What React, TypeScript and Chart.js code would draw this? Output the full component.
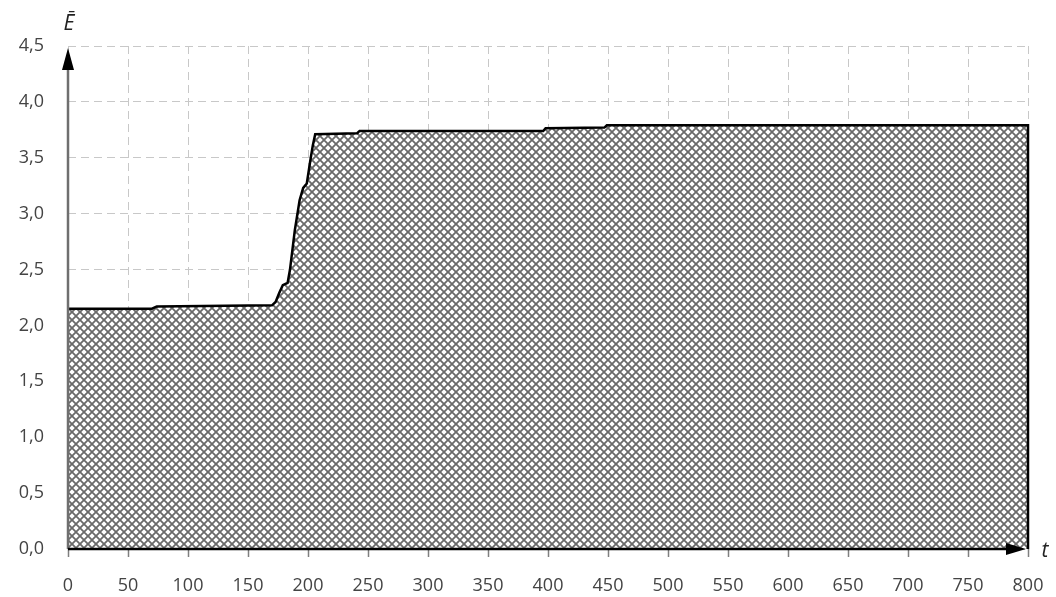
import React, { useEffect, useRef } from "react";
import { Chart, registerables } from "chart.js";

Chart.register(...registerables);

// Time points (t) and the corresponding mean value Ē
const tValues = [0, 70, 74, 170, 173, 176, 179, 183, 185, 189, 193, 196, 199, 202, 204, 206, 241, 243, 396, 398, 447, 449, 800, 800];
const eValues = [2.15, 2.15, 2.17, 2.18, 2.21, 2.29, 2.36, 2.38, 2.5, 2.85, 3.12, 3.23, 3.27, 3.48, 3.61, 3.71, 3.72, 3.74, 3.74, 3.765, 3.77, 3.79, 3.79, 0];

const xTickStep = 50;
const yTickStep = 0.5;
const xMax = 800;
const yMax = 4.5;

const FONT = "'Open Sans', sans-serif";

function makeHatch(): CanvasPattern | string {
  const c = document.createElement("canvas");
  const s = 8;
  c.width = s;
  c.height = s;
  const g = c.getContext("2d");
  if (!g) return "#999";
  g.fillStyle = "#ffffff";
  g.fillRect(0, 0, s, s);
  g.strokeStyle = "#6a6a6a";
  g.lineWidth = 1.8;
  g.beginPath();
  g.moveTo(-2, -2);
  g.lineTo(s + 2, s + 2);
  g.moveTo(s + 2, -2);
  g.lineTo(-2, s + 2);
  g.stroke();
  const p = g.createPattern(c, "repeat");
  return p || "#999";
}

const axesPlugin = {
  id: "arrowAxes",
  afterDatasetsDraw(chart: any) {
    const { ctx, chartArea, scales } = chart;
    const x = scales.x;
    const left = chartArea.left;
    const right = chartArea.right;
    const top = chartArea.top;
    const bottom = chartArea.bottom;
    ctx.save();

    // x tick marks
    ctx.strokeStyle = "#7f7f7f";
    ctx.lineWidth = 1.5;
    for (let v = 0; v <= xMax; v += xTickStep) {
      const px = Math.round(x.getPixelForValue(v)) + 0.5;
      ctx.beginPath();
      ctx.moveTo(px, bottom);
      ctx.lineTo(px, bottom + 8);
      ctx.stroke();
    }

    // y axis line with arrow
    ctx.strokeStyle = "#6f6f6f";
    ctx.lineWidth = 2.5;
    ctx.beginPath();
    ctx.moveTo(left, bottom);
    ctx.lineTo(left, top + 20);
    ctx.stroke();
    ctx.fillStyle = "#000";
    ctx.beginPath();
    ctx.moveTo(left, top + 2);
    ctx.lineTo(left - 6, top + 24);
    ctx.lineTo(left + 6, top + 24);
    ctx.closePath();
    ctx.fill();

    // x axis line with arrow
    ctx.strokeStyle = "#000";
    ctx.lineWidth = 2.5;
    ctx.beginPath();
    ctx.moveTo(left, bottom);
    ctx.lineTo(right - 18, bottom);
    ctx.stroke();
    ctx.beginPath();
    ctx.moveTo(right - 2, bottom);
    ctx.lineTo(right - 22, bottom - 6);
    ctx.lineTo(right - 22, bottom + 6);
    ctx.closePath();
    ctx.fill();

    // axis names
    ctx.fillStyle = "#222";
    ctx.font = `italic 21px ${FONT}`;
    ctx.textAlign = "center";
    ctx.textBaseline = "middle";
    ctx.fillText("Ē", left + 1, 24);
    ctx.fillText("t", right + 17, bottom + 2);
    ctx.restore();
  },
};

export default function App() {
  const ref = useRef<HTMLCanvasElement | null>(null);

  useEffect(() => {
    if (!ref.current) return;
    const points = tValues.map((t, i) => ({ x: t, y: eValues[i] }));
    const chart = new Chart(ref.current, {
      type: "line",
      data: {
        datasets: [
          {
            data: points,
            borderColor: "#000",
            borderWidth: 2.5,
            pointRadius: 0,
            tension: 0,
            fill: "origin",
            clip: 4,
            backgroundColor: makeHatch() as any,
          },
        ],
      },
      options: {
        animation: false,
        responsive: false,
        maintainAspectRatio: false,
        layout: { padding: { top: 46, right: 28, left: 0, bottom: 0 } },
        plugins: { legend: { display: false }, tooltip: { enabled: false } },
        scales: {
          x: {
            type: "linear",
            min: 0,
            max: xMax,
            afterFit: (s: any) => {
              s.height = 48;
              s.paddingLeft = 0;
              s.paddingRight = 0;
            },
            border: { display: false, dash: [8, 5] },
            grid: { color: "#c8c8c8", lineWidth: 1, drawTicks: false },
            ticks: {
              stepSize: xTickStep,
              padding: 26,
              color: "#444444",
              font: { family: FONT, size: 18 },
              maxRotation: 0,
              autoSkip: false,
            },
          },
          y: {
            min: 0,
            max: yMax,
            afterFit: (s: any) => {
              s.width = 68;
              s.paddingTop = 0;
              s.paddingBottom = 0;
            },
            border: { display: false, dash: [8, 5] },
            grid: { color: "#c8c8c8", lineWidth: 1, drawTicks: false },
            ticks: {
              stepSize: yTickStep,
              padding: 24,
              color: "#444444",
              font: { family: FONT, size: 18 },
              callback: (v: any) => Number(v).toFixed(1).replace(".", ","),
            },
          },
        },
      },
      plugins: [axesPlugin],
    });
    return () => chart.destroy();
  }, []);

  return (
    <div style={{ position: "fixed", left: 0, top: 0, width: 1056, height: 597, background: "#fff" }}>
      <canvas ref={ref} width={1056} height={597} style={{ width: 1056, height: 597 }} />
    </div>
  );
}
